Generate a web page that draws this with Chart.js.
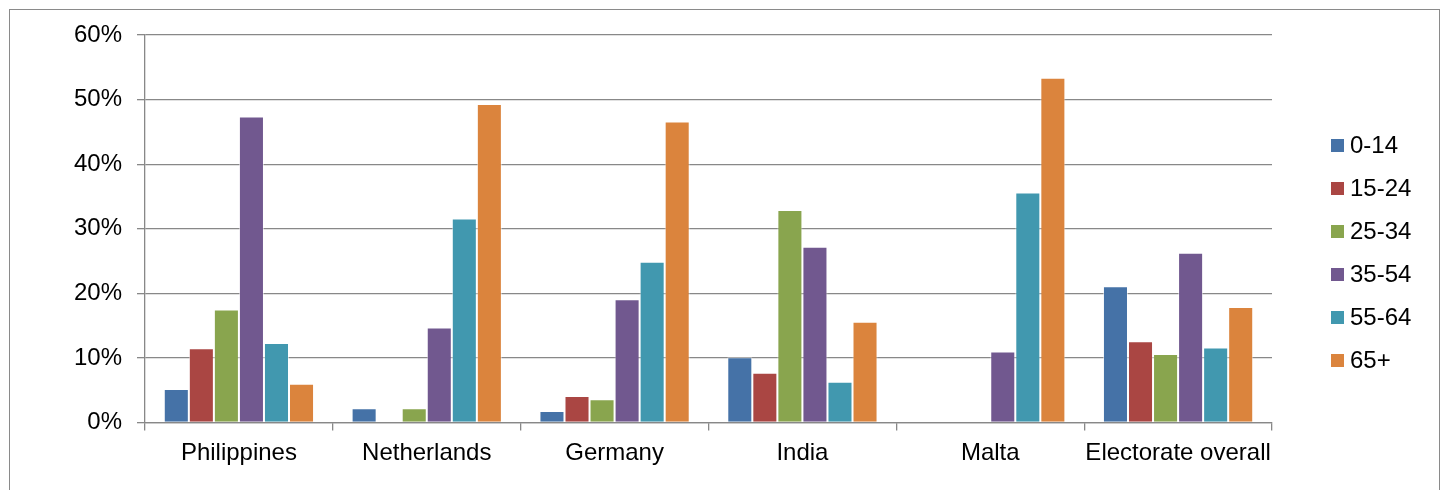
<!DOCTYPE html>
<html>
<head>
<meta charset="utf-8">
<script src="https://cdn.jsdelivr.net/npm/chart.js@4/dist/chart.umd.min.js"></script>
<style>
    html, body { margin: 0; padding: 0; background: #fff; overflow: hidden; }
    #frame { position: absolute; left: 9px; top: 9px; width: 1429px; height: 500px; border: 1px solid #8a8a8a; }
    #wrap { position: absolute; left: 0; top: 0; width: 1445px; height: 490px; }
</style>
</head>
<body>
<div id="frame"></div>
<div id="wrap"><canvas id="AgeChart"></canvas></div>
<script>
const categories = ['Philippines', 'Netherlands', 'Germany', 'India', 'Malta', 'Electorate overall'];
const ageGroups = ['0-14', '15-24', '25-34', '35-54', '55-64', '65+'];
const age0to14 = [5.2, 2.2, 1.8, 10.1, 0, 21.1];
const age15to24 = [11.5, 0, 4.1, 7.7, 0, 12.6];
const age25to34 = [17.5, 2.2, 3.6, 32.9, 0, 10.6];
const age35to54 = [47.4, 14.7, 19.1, 27.2, 11.0, 26.3];
const age55to64 = [12.3, 31.6, 24.9, 6.3, 35.6, 11.6];
const age65plus = [6.0, 49.3, 46.6, 15.6, 53.4, 17.9];
const yMax = 60;
const yStep = 10;

const colors = ['#4572A7', '#AA4643', '#89A54E', '#71588F', '#4198AF', '#DB843D'];
const seriesValues = [age0to14, age15to24, age25to34, age35to54, age55to64, age65plus];
const fontFamily = '"Liberation Sans", Arial, sans-serif';
const gridColor = '#888888';

const datasets = ageGroups.map(function (group, i) {
    return {
        label: group,
        data: seriesValues[i],
        backgroundColor: colors[i],
        borderColor: 'rgba(255,255,255,0.55)',
        borderWidth: 1,
        categoryPercentage: 0.8,
        barPercentage: 1.0
    };
});

// legend drawn at the right, Excel style
const sideLegend = {
    id: 'sideLegend',
    afterDraw: function (chart) {
        const ctx = chart.ctx;
        ctx.save();
        ctx.font = '24px ' + fontFamily;
        ctx.textBaseline = 'middle';
        ctx.textAlign = 'left';
        chart.data.datasets.forEach(function (ds, i) {
            const y = 145.5 + i * 43;
            ctx.fillStyle = ds.backgroundColor;
            ctx.fillRect(1331, y - 6.5, 13, 13);
            ctx.fillStyle = '#000';
            ctx.fillText(ds.label, 1350, y + 1);
        });
        ctx.restore();
    }
};

const ctx = document.getElementById('AgeChart');
const AgeChart = new Chart(ctx, {
    type: 'bar',
    data: {
        labels: categories,
        datasets: datasets
    },
    options: {
        responsive: true,
        maintainAspectRatio: false,
        animation: false,
        layout: {
            padding: { left: 0, right: 173, top: 35, bottom: 0 }
        },
        plugins: {
            legend: { display: false },
            tooltip: { enabled: false }
        },
        scales: {
            x: {
                grid: {
                    offset: true,
                    drawOnChartArea: false,
                    color: gridColor,
                    lineWidth: 1.3,
                    tickLength: 8
                },
                border: { color: gridColor, width: 1.3 },
                ticks: {
                    color: '#000',
                    padding: 8,
                    maxRotation: 0,
                    autoSkip: false,
                    font: { size: 24, family: fontFamily }
                },
                afterFit: function (scale) {
                    scale.height = 67.5;
                }
            },
            y: {
                min: 0,
                max: yMax,
                grid: {
                    color: gridColor,
                    lineWidth: 1.3,
                    tickLength: 8
                },
                border: { color: gridColor, width: 1.3 },
                ticks: {
                    stepSize: yStep,
                    color: '#000',
                    padding: 15,
                    font: { size: 24, family: fontFamily },
                    callback: function (value) {
                        return value + '%';
                    }
                },
                afterFit: function (scale) {
                    scale.width = 145;
                }
            }
        }
    },
    plugins: [sideLegend]
});
</script>
</body>
</html>
